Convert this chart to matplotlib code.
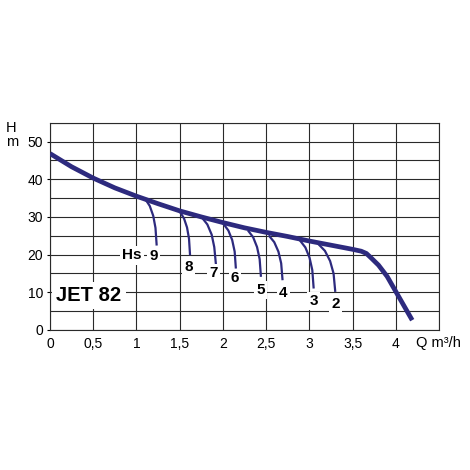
import numpy as np
import matplotlib.pyplot as plt

# main pump curve Q (m3/h) -> H (m)
main_q = [0, 0.25, 0.5, 0.75, 1.0, 1.25, 1.5, 1.75, 2.0, 2.25, 2.5, 2.75, 3.0,
          3.25, 3.5, 3.6, 3.66, 3.72, 3.8, 3.9, 4.0, 4.1, 4.19]
main_h = [46.8, 43.3, 40.3, 37.7, 35.5, 33.5, 31.6, 30.0, 28.5, 27.1, 25.9, 24.8, 23.6,
          22.5, 21.4, 20.9, 20.3, 19.0, 17.2, 14.2, 10.2, 6.2, 2.6]

# suction height branches (Hs = 9 ... 2)
branch_names = ["9", "8", "7", "6", "5", "4", "3", "2"]
branch_q = [
    [1.10, 1.154, 1.194, 1.22, 1.234],
    [1.504, 1.55, 1.585, 1.608, 1.62],
    [1.755, 1.82, 1.87, 1.90, 1.92],
    [2.005, 2.063, 2.107, 2.136, 2.15],
    [2.29, 2.35, 2.395, 2.425, 2.44],
    [2.53, 2.594, 2.642, 2.674, 2.69],
    [2.89, 2.954, 3.002, 3.034, 3.05],
    [3.10, 3.18, 3.24, 3.28, 3.30],
]
branch_h = [
    [34.8, 32.9, 30.3, 27.1, 22.4],
    [31.3, 29.6, 27.2, 24.2, 19.8],
    [29.9, 28.0, 25.3, 22.0, 17.2],
    [28.2, 26.4, 23.9, 20.8, 16.3],
    [26.4, 24.6, 22.0, 18.8, 14.1],
    [25.1, 23.3, 20.8, 17.7, 13.2],
    [23.8, 21.9, 19.2, 15.9, 11.0],
    [22.9, 21.0, 18.3, 15.0, 10.1],
]
# where the branch numbers sit
label_q = [1.20, 1.60, 1.89, 2.14, 2.44, 2.70, 3.05, 3.30]
label_h = [19.6, 16.7, 15.0, 13.8, 10.6, 9.7, 7.7, 7.0]

x_ticks = [0, 0.5, 1, 1.5, 2, 2.5, 3, 3.5, 4]
x_tick_labels = ["0", "0,5", "1", "1,5", "2", "2,5", "3", "3,5", "4"]
y_ticks = [0, 10, 20, 30, 40, 50]

blue = "#2d2a7e"
grid_col = "#2a2a2a"

plt.rcParams['font.family'] = ['Liberation Sans', 'DejaVu Sans']

fig = plt.figure(figsize=(4.7, 4.7), dpi=100)
ax = fig.add_axes([0.1064, 0.2979, 0.8277, 0.4411])

ax.set_xlim(0, 4.5)
ax.set_ylim(0, 55)
ax.set_xticks(x_ticks)
ax.set_xticklabels(x_tick_labels)
ax.set_yticks(y_ticks)
ax.set_xticks(np.arange(0.5, 4.51, 0.5), minor=True)
ax.set_yticks(np.arange(5, 55.1, 10), minor=True)
ax.grid(which='both', color=grid_col, linewidth=0.8)
ax.set_axisbelow(True)
ax.tick_params(axis='x', which='both', length=0, pad=5, labelsize=10)
ax.tick_params(axis='y', which='major', length=2.5, width=0.8, pad=2.5, labelsize=10)
ax.tick_params(axis='y', which='minor', length=0)
for s in ax.spines.values():
    s.set_color(grid_col)
    s.set_linewidth(0.8)

for q, h in zip(branch_q, branch_h):
    ax.plot(q, h, color=blue, linewidth=1.6, zorder=2, solid_capstyle='butt')
ax.plot(main_q, main_h, color=blue, linewidth=3.4, zorder=3, solid_capstyle='butt')

box = dict(boxstyle='square,pad=0.15', facecolor='white', edgecolor='none')
for name, q, h in zip(branch_names, label_q, label_h):
    ax.text(q, h, name, ha='center', va='center', fontsize=11, fontweight='bold',
            bbox=box, zorder=4)
ax.text(0.945, 19.8, "Hs", ha='center', va='center', fontsize=11, fontweight='bold',
        bbox=box, zorder=4)
ax.text(0.45, 9.2, "JET 82", ha='center', va='center', fontsize=14.5, fontweight='bold',
        bbox=dict(boxstyle='square,pad=0.2', facecolor='white', edgecolor='none'), zorder=4)

fig.text(11 / 470, 1 - 128 / 470, "H", ha='center', va='center', fontsize=10.5)
fig.text(12.5 / 470, 1 - 142 / 470, "m", ha='center', va='center', fontsize=10.5)
fig.text(416 / 470, 1 - 343 / 470, "Q m³/h", ha='left', va='center', fontsize=10.5)

fig.savefig("out.png", dpi=100, facecolor='white')
